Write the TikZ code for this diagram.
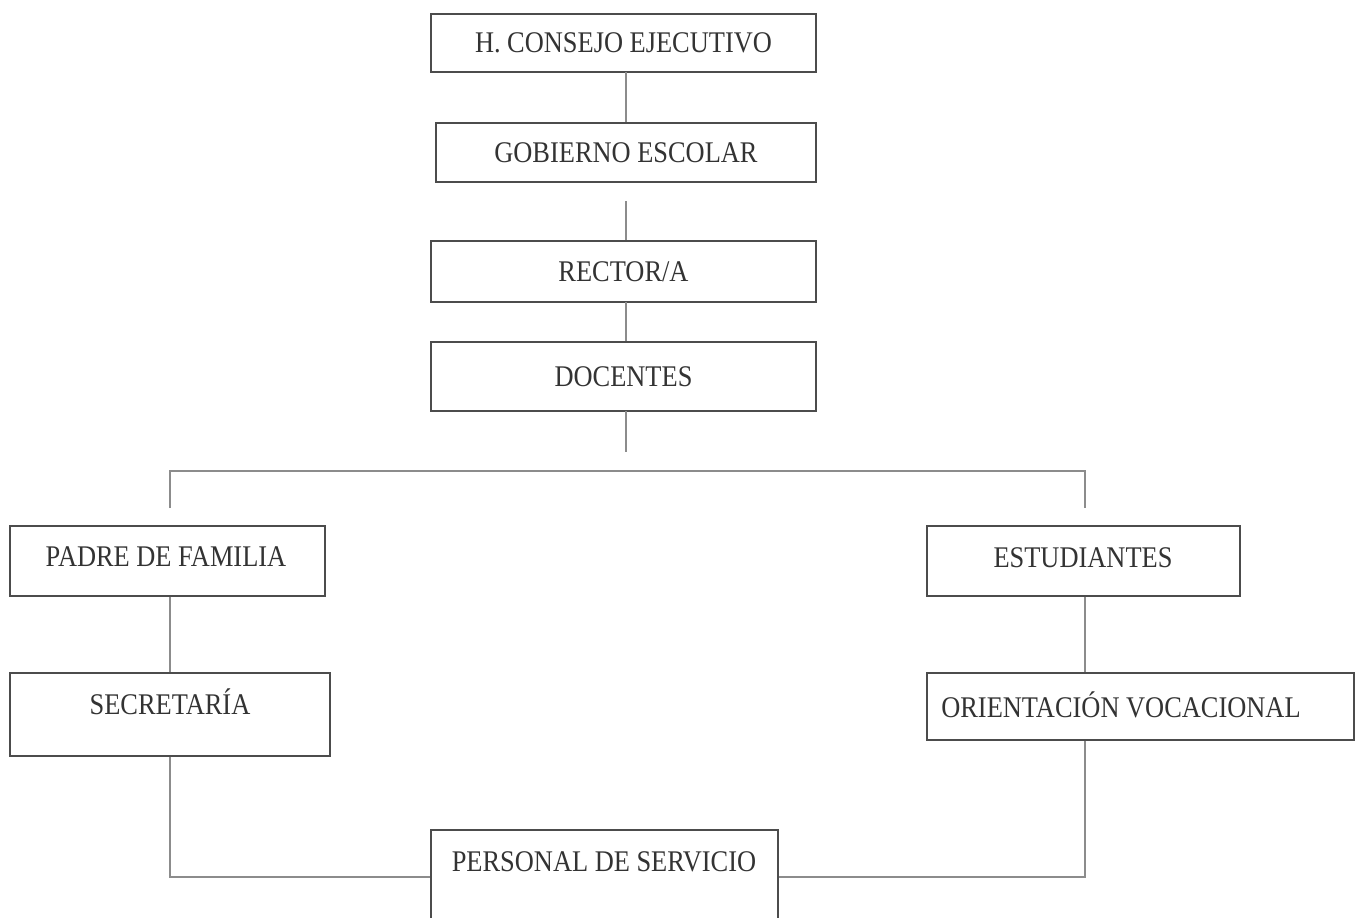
\documentclass[tikz,border=0pt]{standalone}
\usepackage{fontspec}
\setmainfont{Liberation Serif}[FakeStretch=0.88]
\begin{document}
\begin{tikzpicture}[x=0.5pt,y=-0.5pt,
  box/.style={draw=black!70, line width=0.7pt, fill=white, inner sep=0pt,
    font=\fontsize{15}{17}\selectfont, text=black!80},
  lbl/.style={inner sep=0pt, font=\fontsize{15}{17}\selectfont, text=black!80},
  conn/.style={draw=black!45, line width=0.8pt}]
\useasboundingbox (0,0) rectangle (1364,917);
\begin{scope}
\clip (0,0) rectangle (1364,917);
% boxes
\node[box, minimum width=385*0.5pt, minimum height=58*0.5pt] (cons) at (623.5,43) {H. CONSEJO EJECUTIVO};
\node[box, minimum width=380*0.5pt, minimum height=59*0.5pt, line width=1pt] (gob) at (626,152.5) {GOBIERNO ESCOLAR};
\node[box, minimum width=385*0.5pt, minimum height=61*0.5pt] (rect) at (623.5,271.5) {RECTOR/A};
\node[box, minimum width=385*0.5pt, minimum height=69*0.5pt] (doc) at (623.5,376.5) {DOCENTES};
\node[box, minimum width=315*0.5pt, minimum height=70*0.5pt] (padre) at (167.5,561) {};
\node[lbl] (tpadre) at (166,557) {PADRE DE FAMILIA};
\node[box, minimum width=313*0.5pt, minimum height=70*0.5pt] (est) at (1083.5,561) {};
\node[lbl] (test) at (1083,558) {ESTUDIANTES};
\node[box, minimum width=320*0.5pt, minimum height=83*0.5pt] (sec) at (170,714.5) {};
\node[lbl] (tsec) at (170,702) {SECRETARÍA};
\node[box, minimum width=427*0.5pt, minimum height=67*0.5pt] (ori) at (1140.5,706.5) {};
\node[lbl] (tori) at (1121,705) {ORIENTACIÓN VOCACIONAL};
\node[box, minimum width=347*0.5pt, minimum height=110*0.5pt] (pers) at (604.5,885) {};
\node[lbl] (tpers) at (604,862) {PERSONAL DE SERVICIO};
% connector points
\coordinate (c1) at (626,72);
\coordinate (c2) at (626,201);
\coordinate (c3) at (626,302);
\coordinate (c4) at (626,411);
\coordinate (c5) at (626,452);
\coordinate (bl) at (170,471);
\coordinate (br) at (1085,471);
\coordinate (bld) at (170,508);
\coordinate (brd) at (1085,508);
\coordinate (sl) at (170,877);
\coordinate (sr) at (1085,877);
% connectors
\draw[conn] (c1) -- (gob.north -| c1);
\draw[conn] (c2) -- (rect.north -| c2);
\draw[conn] (c3) -- (doc.north -| c3);
\draw[conn] (c4) -- (c5);
\draw[conn] (bld) -- (bl) -- (br) -- (brd);
\draw[conn] (padre.south -| bl) -- (sec.north -| bl);
\draw[conn] (est.south -| br) -- (ori.north -| br);
\draw[conn] (sec.south -| sl) -- (sl) -- (sl -| pers.west);
\draw[conn] (ori.south -| sr) -- (sr) -- (sr -| pers.east);
\end{scope}
\end{tikzpicture}
\end{document}
